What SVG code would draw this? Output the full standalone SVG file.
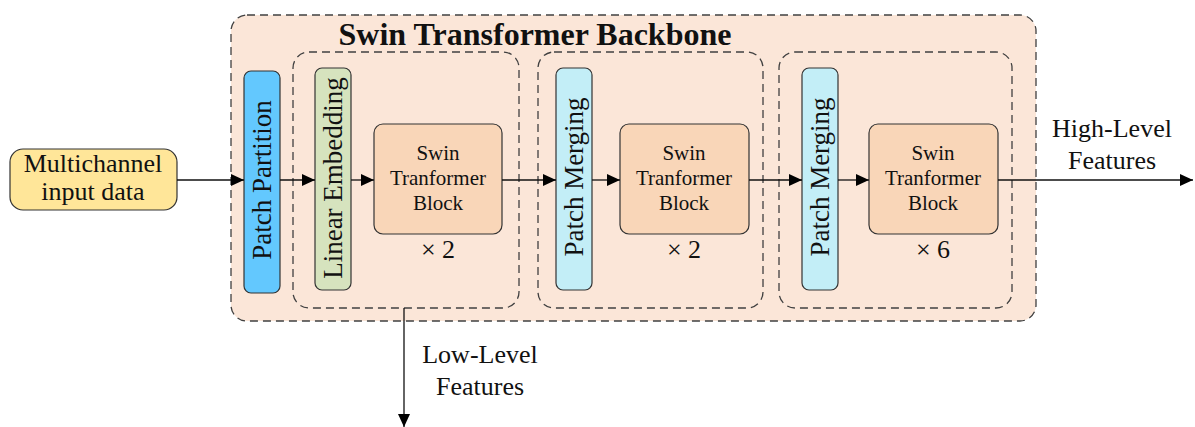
<svg xmlns="http://www.w3.org/2000/svg" width="1195" height="427" viewBox="0 0 1195 427">
<style>
text{font-family:"Liberation Serif","Times New Roman",serif;fill:#111}
.dash{fill:none;stroke:#404040;stroke-width:1.3;stroke-dasharray:8 5}
.node{stroke:#333;stroke-width:1.2}
.lbl{font-size:26px;text-anchor:middle}
.vert{font-size:27px;text-anchor:middle}
.blk{font-size:21px;text-anchor:middle}
.conn{stroke:#111;stroke-width:1.3;fill:none;marker-end:url(#ah)}
</style>
<defs>
<marker id="ah" markerUnits="userSpaceOnUse" markerWidth="14" markerHeight="12" refX="13" refY="6" orient="auto">
<path d="M0,0 L13,6 L0,12 z" fill="#000"/>
</marker>
</defs>
<g id="backbone">
<rect x="231" y="15" width="805" height="306" rx="16" class="dash" style="fill:#FBE6D8"/>
<text x="535" y="45" text-anchor="middle" font-weight="bold" font-size="32">Swin Transformer Backbone</text>
</g>
<g id="stage1"><rect x="293" y="52" width="226" height="256" rx="16" class="dash"/></g>
<g id="stage2"><rect x="538" y="52" width="225" height="256" rx="16" class="dash"/></g>
<g id="stage3"><rect x="779" y="52" width="233" height="256" rx="16" class="dash"/></g>
<g id="input">
<rect x="10" y="149" width="167" height="61" rx="13" fill="#FFE699" class="node"/>
<text class="lbl" x="93" y="172">Multichannel</text>
<text class="lbl" x="93" y="200">input data</text>
</g>
<g id="patch-partition">
<rect x="244" y="71" width="36" height="222" rx="7" fill="#63C8FE" class="node"/>
<text class="vert" transform="translate(271,180) rotate(-90)">Patch Partition</text>
</g>
<g id="linear-embedding">
<rect x="315" y="68" width="36" height="222" rx="7" fill="#D6E3BE" class="node"/>
<text class="vert" transform="translate(342,178) rotate(-90)">Linear Embedding</text>
</g>
<g id="swin-block-1">
<rect x="374" y="124" width="128" height="110" rx="9" fill="#F9D6B8" class="node"/>
<text class="blk" x="438" y="160">Swin</text>
<text class="blk" x="438" y="185">Tranformer</text>
<text class="blk" x="438" y="210">Block</text>
<text class="lbl" x="438" y="258">× 2</text>
</g>
<g id="patch-merging-1">
<rect x="556" y="68" width="36" height="222" rx="7" fill="#C3EEF7" class="node"/>
<text class="vert" transform="translate(583,177) rotate(-90)">Patch Merging</text>
</g>
<g id="swin-block-2">
<rect x="620" y="124" width="129" height="110" rx="9" fill="#F9D6B8" class="node"/>
<text class="blk" x="684" y="160">Swin</text>
<text class="blk" x="684" y="185">Tranformer</text>
<text class="blk" x="684" y="210">Block</text>
<text class="lbl" x="684" y="258">× 2</text>
</g>
<g id="patch-merging-2">
<rect x="802" y="68" width="36" height="222" rx="7" fill="#C3EEF7" class="node"/>
<text class="vert" transform="translate(829,177) rotate(-90)">Patch Merging</text>
</g>
<g id="swin-block-3">
<rect x="869" y="124" width="129" height="110" rx="9" fill="#F9D6B8" class="node"/>
<text class="blk" x="933" y="160">Swin</text>
<text class="blk" x="933" y="185">Tranformer</text>
<text class="blk" x="933" y="210">Block</text>
<text class="lbl" x="933" y="258">× 6</text>
</g>
<g id="connectors">
<line class="conn" x1="177" y1="180" x2="244" y2="180"/>
<line class="conn" x1="280" y1="180" x2="315" y2="180"/>
<line class="conn" x1="351" y1="180" x2="374" y2="180"/>
<line class="conn" x1="502" y1="180" x2="556" y2="180"/>
<line class="conn" x1="592" y1="180" x2="620" y2="180"/>
<line class="conn" x1="749" y1="180" x2="802" y2="180"/>
<line class="conn" x1="838" y1="180" x2="869" y2="180"/>
<line class="conn" x1="998" y1="180" x2="1193" y2="180"/>
<line class="conn" x1="404" y1="308" x2="404" y2="427"/>
<text class="lbl" x="1112" y="137">High-Level</text>
<text class="lbl" x="1112" y="169">Features</text>
<text class="lbl" x="480" y="363">Low-Level</text>
<text class="lbl" x="480" y="395">Features</text>
</g>
</svg>
